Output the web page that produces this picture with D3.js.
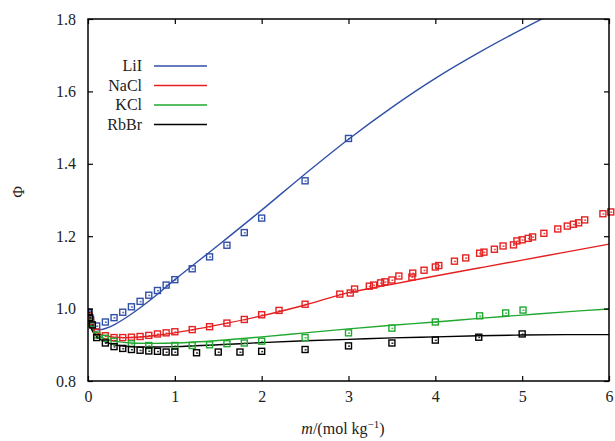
<!DOCTYPE html><html><head><meta charset="utf-8"><script src="https://cdn.jsdelivr.net/npm/d3@7"></script>
<style>body{margin:0;background:#fff}text{font-family:"Liberation Serif",serif;fill:#222}</style></head><body>
<svg id="c" width="615" height="441"></svg>
<script>
const xTicks=[0,1,2,3,4,5,6];
const yTicks=[0.8,1.0,1.2,1.4,1.6,1.8];
const names=["LiI","NaCl","KCl","RbBr"];
const colors=["#3050a8","#e52020","#20a830","#000000"];
const lineM=[0,0.01,0.03,0.06,0.1,0.15,0.2,0.3,0.5,0.75,1,1.5,2,2.5,3,3.5,4,4.5,5,5.5,6];
const liiLine=[1.0,0.975,0.958,0.947,0.942,0.942,0.945,0.955,0.985,1.03,1.08,1.175,1.272,1.372,1.468,1.556,1.636,1.707,1.772,1.833,1.89];
const naclLine=[1.0,0.972,0.955,0.942,0.934,0.928,0.925,0.921,0.92,0.925,0.933,0.955,0.98,1.01,1.044,1.067,1.09,1.112,1.134,1.156,1.178];
const kclLine=[1.0,0.972,0.953,0.938,0.928,0.921,0.916,0.91,0.905,0.904,0.905,0.912,0.922,0.933,0.944,0.954,0.963,0.973,0.982,0.991,0.999];
const rbbrLine=[1.0,0.97,0.95,0.934,0.923,0.914,0.908,0.9,0.895,0.894,0.895,0.9,0.906,0.911,0.915,0.919,0.922,0.925,0.927,0.928,0.928];
const liiPts=[[0.01,0.985],[0.03,0.97],[0.1,0.952],[0.2,0.963],[0.3,0.975],[0.4,0.99],[0.5,1.005],[0.6,1.02],[0.7,1.037],[0.8,1.05],[0.9,1.065],[1.0,1.08],[1.2,1.11],[1.4,1.143],[1.6,1.175],[1.8,1.21],[2.0,1.25],[2.5,1.353],[3.0,1.47]];
const naclPts=[[0.01,0.98],[0.03,0.965],[0.1,0.935],[0.2,0.925],[0.3,0.92],[0.4,0.92],[0.5,0.921],[0.6,0.923],[0.7,0.926],[0.8,0.93],[0.9,0.933],[1.0,0.936],[1.2,0.942],[1.4,0.95],[1.6,0.96],[1.8,0.97],[2.0,0.983],[2.2,0.995],[2.5,1.012],[2.9,1.04],[3.02,1.043],[3.07,1.054],[3.24,1.062],[3.29,1.065],[3.37,1.071],[3.42,1.074],[3.5,1.079],[3.58,1.09],[3.73,1.087],[3.74,1.098],[3.87,1.106],[4.0,1.115],[4.04,1.119],[4.22,1.131],[4.35,1.14],[4.51,1.153],[4.56,1.156],[4.68,1.164],[4.78,1.173],[4.9,1.176],[4.94,1.187],[5.0,1.19],[5.07,1.194],[5.12,1.198],[5.25,1.208],[5.41,1.22],[5.52,1.228],[5.59,1.233],[5.65,1.237],[5.72,1.245],[5.93,1.262],[6.02,1.267]];
const kclPts=[[0.01,0.975],[0.03,0.96],[0.1,0.927],[0.2,0.918],[0.3,0.91],[0.5,0.903],[0.7,0.898],[1.0,0.898],[1.2,0.898],[1.4,0.9],[1.6,0.903],[1.8,0.905],[2.0,0.91],[2.5,0.92],[3.0,0.933],[3.5,0.946],[4.0,0.963],[4.51,0.98],[4.81,0.988],[5.01,0.996]];
const rbbrPts=[[0.01,0.99],[0.02,0.975],[0.05,0.955],[0.1,0.92],[0.2,0.905],[0.3,0.895],[0.4,0.89],[0.5,0.887],[0.6,0.885],[0.7,0.883],[0.8,0.882],[0.9,0.88],[1.0,0.88],[1.25,0.878],[1.5,0.88],[1.75,0.88],[2.0,0.882],[2.5,0.887],[3.0,0.897],[3.5,0.905],[4.0,0.913],[4.5,0.921],[5.0,0.93]];
const lines=[liiLine,naclLine,kclLine,rbbrLine], pts=[liiPts,naclPts,kclPts,rbbrPts];

const svg=d3.select("#c");
const L=88,R=609,T=19,B=381;
const x=d3.scaleLinear().domain([0,6]).range([L,R]);
const y=d3.scaleLinear().domain([0.8,1.8]).range([B,T]);
const g=svg.append("g");
g.append("defs").append("clipPath").attr("id","cp").append("rect").attr("x",L).attr("y",T).attr("width",R-L+6).attr("height",B-T);
const pg=g.append("g").attr("clip-path","url(#cp)");
lines.forEach((ln,i)=>{
  pg.append("path").datum(ln.map((v,j)=>[lineM[j],v])).attr("fill","none").attr("stroke",colors[i]).attr("stroke-width",1.4)
   .attr("d",d3.line().x(d=>x(d[0])).y(d=>y(d[1])).curve(d3.curveCatmullRom));
});
pts.forEach((p,i)=>{
  p.forEach(d=>{
    pg.append("rect").attr("x",x(d[0])-3).attr("y",y(d[1])-3).attr("width",6).attr("height",6).attr("fill","none").attr("stroke",colors[i]).attr("stroke-width",1.4);
    pg.append("rect").attr("x",x(d[0])-0.5).attr("y",y(d[1])-0.5).attr("width",2).attr("height",1.5).attr("fill",colors[i]).attr("opacity",0.8);
  });
});
g.append("rect").attr("x",L).attr("y",T).attr("width",R-L).attr("height",B-T).attr("fill","none").attr("stroke","#000").attr("stroke-width",1.5);
const ax=g.append("g").attr("transform",`translate(0,${B})`).call(d3.axisBottom(x).tickValues(xTicks).tickSize(-5).tickPadding(10).tickFormat(d3.format("d")));
const ax2=g.append("g").attr("transform",`translate(0,${T})`).call(d3.axisTop(x).tickValues(xTicks).tickSize(-5).tickFormat(""));
const ay=g.append("g").attr("transform",`translate(${L},0)`).call(d3.axisLeft(y).tickValues(yTicks).tickSize(-5).tickPadding(12).tickFormat(d3.format(".1f")));
const ay2=g.append("g").attr("transform",`translate(${R},0)`).call(d3.axisRight(y).tickValues(yTicks).tickSize(-5).tickFormat(""));
[ax,ax2,ay,ay2].forEach(a=>{a.select(".domain").remove();a.selectAll("line").attr("stroke","#000").attr("stroke-width",1.2);a.selectAll("text").style("font-size","16px").attr("fill","#222").style("font-family","Liberation Serif,serif");});
svg.append("text").attr("transform","translate(24,192) rotate(-90)").attr("text-anchor","middle").style("font-size","16px").text("Φ");
const xl=svg.append("text").attr("x",343).attr("y",434).attr("text-anchor","middle").style("font-size","16px");
xl.append("tspan").style("font-style","italic").text("m");
xl.append("tspan").text("/(mol kg");
xl.append("tspan").attr("dy",-6).style("font-size","11px").text("−1");
xl.append("tspan").attr("dy",6).text(")");
names.forEach((n,i)=>{
  const yy=66+i*19.5;
  svg.append("text").attr("x",142).attr("y",yy+5).attr("text-anchor","end").style("font-size","16px").text(n);
  svg.append("line").attr("x1",154).attr("x2",207).attr("y1",yy).attr("y2",yy).attr("stroke",colors[i]).attr("stroke-width",1.4);
});
</script></body></html>
